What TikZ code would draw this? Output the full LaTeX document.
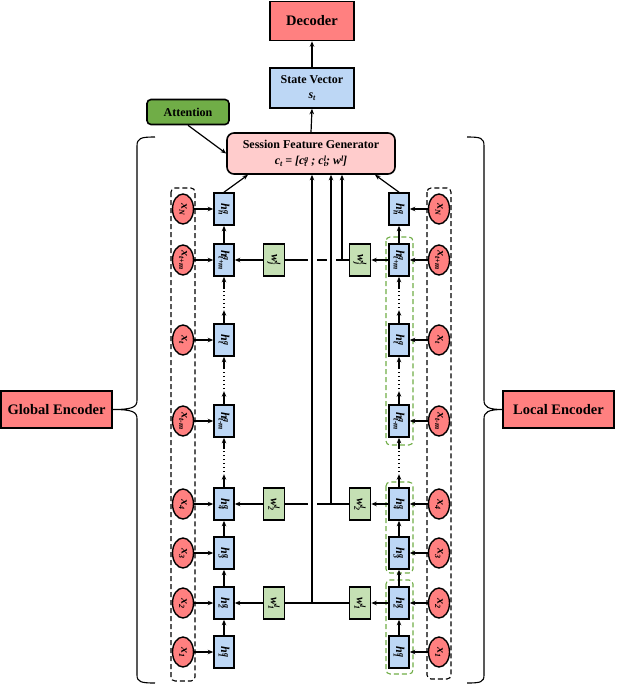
\documentclass[tikz,border=0pt]{standalone}
\usepackage{fontspec}
\usepackage{graphicx}
\setmainfont{Liberation Serif}
\usetikzlibrary{arrows.meta,shapes.geometric}
\definecolor{salmon}{RGB}{255,128,128}
\definecolor{lblue}{RGB}{189,215,245}
\definecolor{lgreen}{RGB}{197,224,180}
\definecolor{dgreen}{RGB}{112,173,71}
\definecolor{lpink}{RGB}{255,204,204}
\newcommand\scr{\fontsize{8}{9}\selectfont}
\newcommand\ms[3]{#1\begingroup\sbox0{\scr #2}\sbox2{\scr #3}%
\ifdim\wd0>\wd2 \rlap{\raisebox{0.6ex}{\usebox2}}\raisebox{-0.45ex}{\usebox0}\else\rlap{\raisebox{-0.45ex}{\usebox0}}\raisebox{0.6ex}{\usebox2}\fi\endgroup}
\newcommand\rt[1]{\rotatebox{-90}{#1}}
\begin{document}
\begin{tikzpicture}[x=1pt,y=-1pt,
  >={Stealth[length=5.5pt,width=4.5pt]},
  box/.style={draw, line width=1.6pt, inner sep=0pt, font=\bfseries},
  hbox/.style={box, fill=lblue, minimum width=20pt, minimum height=32pt, font=\fontsize{12}{13}\selectfont\bfseries\itshape},
  wbox/.style={box, fill=lgreen, minimum width=21pt, minimum height=32pt, font=\fontsize{12}{13}\selectfont\bfseries\itshape},
  xell/.style={ellipse, draw, line width=1.4pt, fill=salmon, minimum width=21pt, minimum height=30pt, inner sep=0pt, font=\fontsize{12}{13}\selectfont\bfseries\itshape},
  line/.style={line width=1.2pt},
  arr/.style={line, ->},
  bdash/.style={dashed, dash pattern=on 5pt off 3pt, line width=1.1pt, rounded corners=4pt},
  gdash/.style={bdash, draw=dgreen},
  brace/.style={line width=1.1pt}
]
\useasboundingbox (0,0) rectangle (620,685);

% top part
\node[box, fill=salmon, minimum width=84pt, minimum height=39pt, font=\fontsize{14.5}{16}\selectfont\bfseries] (dec) at (312,21) {Decoder};
\node[box, fill=lblue, minimum width=84pt, minimum height=40pt, align=center, font=\fontsize{12}{14}\selectfont\bfseries] (sv) at (312,88) {State Vector\\[1pt]\textit{\ms{s}{t}{}}};
\node[box, rounded corners=4pt, fill=dgreen, minimum width=82pt, minimum height=25pt, font=\fontsize{12}{14}\selectfont\bfseries] (att) at (188,112) {Attention};
\node[box, rounded corners=7pt, fill=lpink, minimum width=168pt, minimum height=41pt, align=center, font=\fontsize{12}{14}\selectfont\bfseries] (sfg) at (311,153.5) {Session Feature Generator\\[2pt]\textit{\ms{c}{t}{} = [\ms{c}{t}{g} ; \ms{c}{t}{l}; \ms{w}{}{l}]}};
\draw[arr] (sfg.north) -- (sv.south);
\draw[arr] (sv.north) -- (dec.south);
\draw[arr] (att.south) -- (sfg.west);

% encoders
\node[box, fill=salmon, minimum width=111pt, minimum height=37pt, font=\fontsize{14.5}{16}\selectfont\bfseries] (genc) at (56.5,409.5) {Global Encoder};
\node[box, fill=salmon, minimum width=111pt, minimum height=37pt, font=\fontsize{14.5}{16}\selectfont\bfseries] (lenc) at (558.5,409.5) {Local Encoder};
\draw[brace] (155,137) .. controls (141,137) and (137,138) .. (137,146) -- (137,400) .. controls (137,407) and (133,409.5) .. (113,409.5) .. controls (133,409.5) and (137,412) .. (137,419) -- (137,675) .. controls (137,682) and (141,683) .. (155,683);
\draw[brace] (467,137) .. controls (481,137) and (484,138) .. (484,146) -- (484,400) .. controls (484,407) and (488,409.5) .. (503,409.5) .. controls (488,409.5) and (484,412) .. (484,419) -- (484,675) .. controls (484,682) and (481,683) .. (467,683);

% dashed groups
\draw[bdash] (171,188) rectangle (195,681);
\draw[bdash] (427,188) rectangle (451,679);
\draw[gdash] (386,237) rectangle (413,445);
\draw[gdash] (386,482) rectangle (413,573);
\draw[gdash] (386,580) rectangle (413,674);

% rows
\foreach \k/\y/\xs/\hs in {N/209/N/n, A/260/t+m/t+m, T/340/t/t, B/421/t-m/t-m, 4/504/4/4, 3/553/3/3, 2/603/2/2, 1/652/1/1}{
  \node[xell] (lx\k) at (183,\y) {\rt{\ms{x}{\xs}{}}};
  \node[hbox] (lh\k) at (224,\y) {\rt{\ms{h}{\hs}{g}}};
  \node[hbox] (rh\k) at (399,\y) {\rt{\ms{h}{\hs}{g}}};
  \node[xell] (rx\k) at (439,\y) {\rt{\ms{x}{\xs}{}}};
  \draw[arr] (lx\k.east) -- (lh\k.west);
  \draw[arr] (rx\k.west) -- (rh\k.east);
}

% vertical chains
\foreach \s in {l,r}{
  \draw[arr] (\s h1.north) -- (\s h2.south);
  \draw[arr] (\s h2.north) -- (\s h3.south);
  \draw[arr] (\s h3.north) -- (\s h4.south);
  \draw[arr] (\s hA.north) -- (\s hN.south);
  \foreach \a/\b in {4/B, B/T, T/A}{
    \draw[arr] (\s h\a.north) -- ([yshift=13pt]\s h\a.north);
    \draw[line width=1.4pt, dash pattern=on 1.4pt off 2.6pt] ([yshift=15pt]\s h\a.north) -- ([yshift=-11pt]\s h\b.south);
    \draw[arr] ([yshift=-11pt]\s h\b.south) -- (\s h\b.south);
  }
}

% w nodes
\foreach \k/\lab in {A/j, 4/2, 2/1}{
  \path (lh\k) ++(50,0) node[wbox] (lw\k) {\rt{\ms{w}{\lab}{l}}};
  \path (rh\k) ++(-39,0) node[wbox] (rw\k) {\rt{\ms{w}{\lab}{l}}};
  \draw[arr] (lw\k.west) -- (lh\k.east);
  \draw[arr] (rh\k.west) -- (rw\k.east);
  \draw[line] (rw\k.west) -- (lw\k.east);
}

% junctions and verticals to generator
\coordinate (j1) at (312,603);
\coordinate (j2) at (331,504);
\coordinate (j3) at (342,260);
\coordinate (g12) at (j1 |- j2);
\coordinate (g13) at (j1 |- j3);
\coordinate (g23) at (j2 |- j3);
\foreach \g in {g12,g13,g23}{
  \draw[white, line width=3pt] ([xshift=-4.5pt]\g) -- ([xshift=4.5pt]\g);
}
\draw[arr] (j1) -- (j1 |- sfg.south);
\draw[arr] (j2) -- (j2 |- sfg.south);
\draw[arr] (j3) -- (j3 |- sfg.south);

% top h to generator
\draw[arr] (lhN.north) -- ([xshift=-63pt]sfg.south);
\draw[arr] (rhN.north) -- ([xshift=64pt]sfg.south);
\end{tikzpicture}
\end{document}
